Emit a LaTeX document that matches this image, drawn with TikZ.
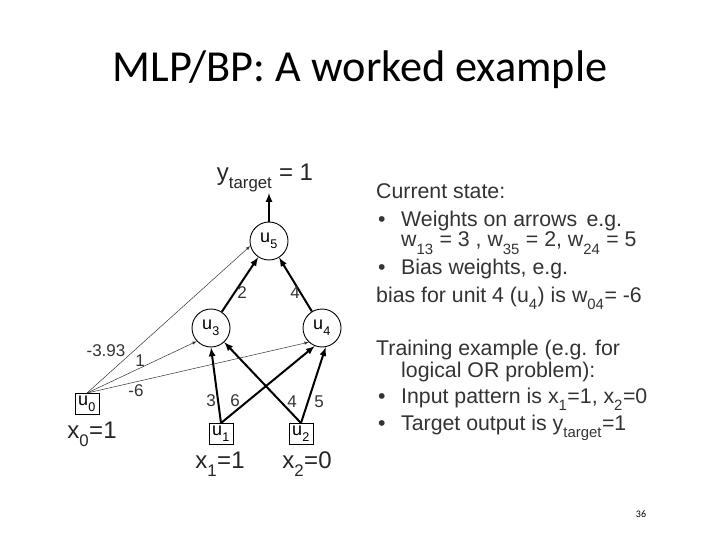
\documentclass[tikz,border=0pt]{standalone}
\usepackage{fontspec}
\setmainfont{Liberation Sans}
\newfontfamily\titlefont{Carlito}
\usetikzlibrary{arrows}
\newcommand{\low}[1]{\raisebox{-0.35ex}{\textsubscript{#1}}}

\begin{document}
\begin{tikzpicture}[x=1pt, y=-1pt, line/.style={>=latex},
  unit/.style={circle, draw, line width=0.9pt, minimum size=38pt, inner sep=0pt, font=\fontsize{18}{20}\selectfont},
  input/.style={rectangle, draw, line width=0.9pt, minimum width=24pt, minimum height=21pt, inner sep=0pt, font=\fontsize{18}{20}\selectfont},
  value/.style={font=\fontsize{24}{26}\selectfont, text=black!85},
  weight/.style={font=\fontsize{17}{19}\selectfont, text=black!80},
  txt/.style={anchor=base west, inner sep=0pt, font=\fontsize{21.3}{23}\selectfont, text=black!80},
  heavy/.style={->, line, line width=2pt},
  light/.style={->, line, line width=0.5pt, black!80}]
\useasboundingbox (0,0) rectangle (720,540);

\node[anchor=base] (title) at (360,82) {\titlefont\fontsize{44.3}{48}\selectfont MLP/BP: A worked example};
\node (page) at (641,514) {\titlefont\fontsize{10}{12}\selectfont 36};

% units
\node[unit] (u5) at (269,241) {u\low{5}};
\node[unit] (u3) at (211,328) {u\low{3}};
\node[unit] (u4) at (322,328) {u\low{4}};
\node[input] (u0) at (87,404) {u\low{0}};
\node[input] (u1) at (221,434) {u\low{1}};
\node[input] (u2) at (301,434) {u\low{2}};

\node[value] (ytarget) at (265,178) {y\low{target} = 1};
\node[value] (x0) at (92,434) {x\low{0}=1};
\node[value] (x1) at (220,464) {x\low{1}=1};
\node[value] (x2) at (307,464) {x\low{2}=0};
\coordinate (ytip) at (269,193);

% arrows
\draw[heavy] (u5) -- (ytip);
\draw[heavy] (u3) -- (u5);
\draw[heavy] (u4) -- (u5);
\draw[heavy] (u1.north) -- (u3.270);
\draw[heavy] (u1.north) -- (u4.248);
\draw[heavy] (u2.north) -- (u3.313);
\draw[heavy] (u2.north) -- (u4.281);
\draw[light] (u0.north) -- (u5.195);
\draw[light] (u0.north) -- (u3.223);
\draw[light] (u0.north) -- (u4.227);

% weights
\node[weight] (w35) at (242,293) {2};
\node[weight] (w45) at (295,293) {4};
\node[weight] (w05) at (106,351) {-3.93};
\node[weight] (w03) at (140,361) {1};
\node[weight] (w04) at (136,391) {-6};
\node[weight] (w13) at (211,401) {3};
\node[weight] (w14) at (235,401) {6};
\node[weight] (w23) at (292,402) {4};
\node[weight] (w24) at (319,402) {5};

% text on the right
\node[txt] (l1) at (376,199) {Current state:};
\node[txt] (b1) at (378,226) {•};
\node[txt] (l2) at (401,226) {Weights on arrows\, e.g.};
\node[txt] (l3) at (401,247) {w\low{13} = 3 , w\low{35} = 2, w\low{24} = 5};
\node[txt] (b2) at (378,274) {•};
\node[txt] (l4) at (401,274) {Bias weights, e.g.};
\node[txt] (l5) at (376,302) {bias for unit 4 (u\low{4}) is w\low{04}= -6};
\node[txt] (l6) at (376,355) {Training example (e.g. for};
\node[txt] (l7) at (401,377) {logical OR problem):};
\node[txt] (b3) at (378,403) {•};
\node[txt] (l8) at (401,403) {Input pattern is x\low{1}=1, x\low{2}=0};
\node[txt] (b4) at (378,430) {•};
\node[txt] (l9) at (401,430) {Target output is y\low{target}=1};

\end{tikzpicture}
\end{document}
